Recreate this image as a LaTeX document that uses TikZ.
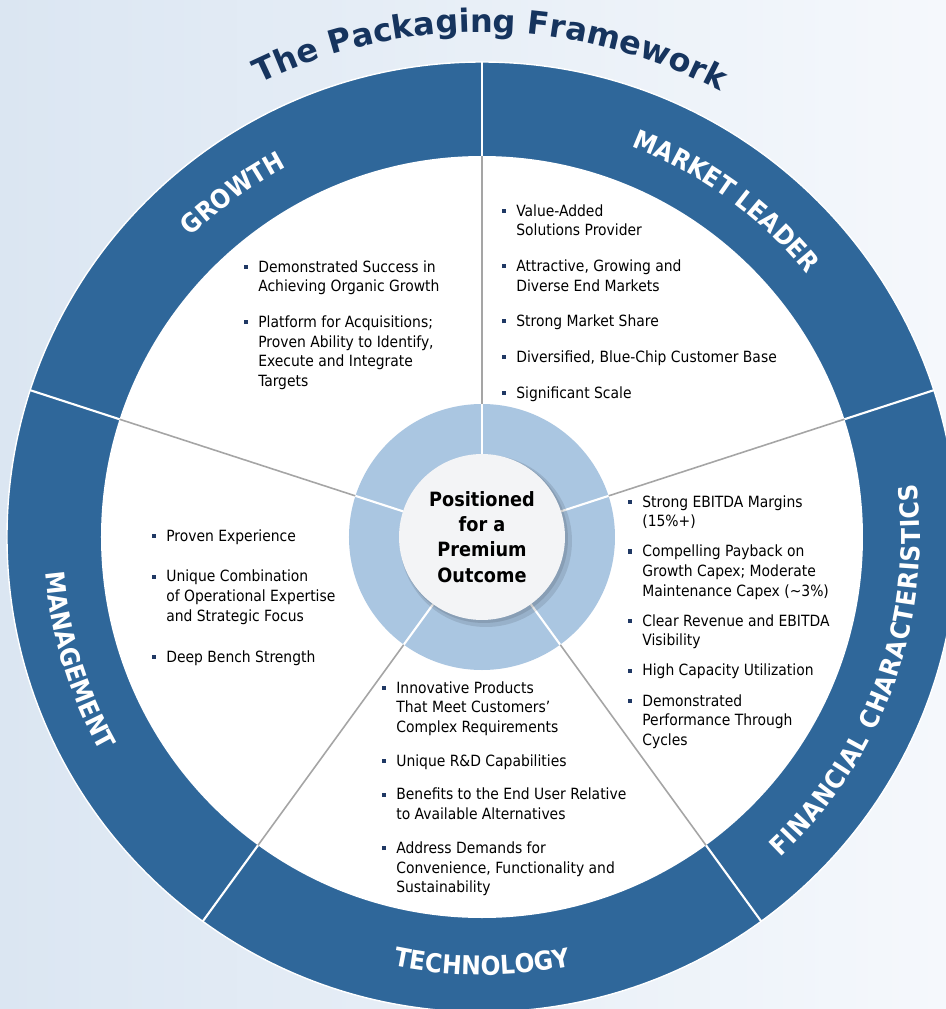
\documentclass[tikz,border=0pt]{standalone}
\usepackage{fontspec}
\setmainfont{DejaVu Sans Condensed}
\newfontfamily\widefont{DejaVu Sans}
\usetikzlibrary{decorations.text}

\definecolor{ringblue}{RGB}{47,103,154}
\definecolor{paleblue}{RGB}{170,198,225}
\definecolor{hubgray}{RGB}{243,244,246}
\definecolor{titleblue}{RGB}{22,52,94}
\definecolor{bulletblue}{RGB}{31,56,100}
\definecolor{bgleft}{RGB}{219,230,242}
\definecolor{bgright}{RGB}{245,248,252}
\definecolor{spokegray}{RGB}{165,165,165}

\newcommand{\ringfont}{\bfseries\fontsize{14.8pt}{14.8pt}\selectfont}
\newcommand{\titlefont}{\widefont\bfseries\fontsize{18.2pt}{18.2pt}\selectfont}
\newcommand{\bl}{\strut\llap{\textcolor{bulletblue}{\rule[1.9pt]{2.3pt}{2.3pt}}\hspace{5.8pt}}}

\tikzset{
  blist/.style={anchor=north west, inner sep=0pt, align=left,
                font=\fontsize{8.8pt}{11.2pt}\selectfont},
  hub/.style={circle, fill=hubgray, minimum size=3.32cm, inner sep=0pt, align=center,
              font=\bfseries\fontsize{11.2pt}{14.4pt}\selectfont},
  ringlabel/.style={decorate, decoration={text along path, text align=center,
                    text color=white, text={|\ringfont|#1}}},
  ringfit/.style={decorate, decoration={text along path, text align=fit to path,
                  text color=white, text={|\ringfont|#1}}}
}

\begin{document}
\begin{tikzpicture}[x=0.02cm, y=0.02cm]

\def\outerR{475}
\def\innerR{381}
\def\paleR{133}
\def\hubR{83}
\def\labelIn{418}
\def\labelOut{438}
\def\titleR{505}

% canvas, centre of the wheel at the origin
\clip (-482,-472) rectangle (464,537);
\shade [left color=bgleft, right color=bgright] (-482,-472) rectangle (464,537);

\begin{scope}
	% outer band
	\fill [ringblue] (0,0) circle [radius=\outerR];
	\draw [white, line width=0.8pt] (0,0) circle [radius=\outerR];
	% white field
	\fill [white] (0,0) circle [radius=\innerR];
	% spokes
	\foreach \a in {90,18,-54,-126,162} {
		\draw [white, line width=1.2pt] (\a:\innerR) -- (\a:\outerR);
		\draw [spokegray, line width=0.9pt] (\a:\paleR) -- (\a:\innerR);
	}
	% pale ring
	\fill [paleblue] (0,0) circle [radius=\paleR];
	\foreach \a in {90,18,-54,-126,162}
		\draw [white, line width=1.2pt] (\a:\hubR) -- (\a:\paleR);
	% hub with soft shadow
	\fill [black, opacity=0.10] (4,-4) circle [radius=86];
	\fill [black, opacity=0.10] (2,-2) circle [radius=84];
	\node [hub] (hub) at (0,0) {Positioned\\for a\\Premium\\Outcome};
\end{scope}

% band labels
\path [ringlabel=GROWTH] (162:\labelIn) arc [start angle=162, end angle=90, radius=\labelIn];
\path [ringlabel=MARKET LEADER] (90:\labelIn) arc [start angle=90, end angle=18, radius=\labelIn];
\path [ringfit=FINANCIAL CHARACTERISTICS] (-47:\labelOut) arc [start angle=-47, end angle=7, radius=\labelOut];
\path [ringlabel=TECHNOLOGY] (-126:\labelOut) arc [start angle=-126, end angle=-54, radius=\labelOut];
\path [ringlabel=MANAGEMENT] (161:\labelOut) arc [start angle=161, end angle=233, radius=\labelOut];

% title
\path [decorate, decoration={text along path, text align=center, text color=titleblue,
       text={|\titlefont|The Packaging Framework}}]
      (131:\titleR) arc [start angle=131, end angle=47, radius=\titleR];

% bullet lists
\node [blist] (growthlist) at (-224,279) {%
	\bl Demonstrated Success in\\ Achieving Organic Growth\\[9.1pt]
	\bl Platform for Acquisitions;\\ Proven Ability to Identify,\\ Execute and Integrate\\ Targets};
\node [blist] (marketlist) at (34,335) {%
	\bl Value-Added\\ Solutions Provider\\[9.1pt]
	\bl Attractive, Growing and\\ Diverse End Markets\\[9.1pt]
	\bl Strong Market Share\\[9.1pt]
	\bl Diversified, Blue-Chip Customer Base\\[9.1pt]
	\bl Significant Scale};
\node [blist] (financelist) at (160,44) {%
	\bl Strong EBITDA Margins\\ (15\%+)\\[5.9pt]
	\bl Compelling Payback on\\ Growth Capex; Moderate\\ Maintenance Capex (\textasciitilde3\%)\\[5.9pt]
	\bl Clear Revenue and EBITDA\\ Visibility\\[5.9pt]
	\bl High Capacity Utilization\\[5.9pt]
	\bl Demonstrated\\ Performance Through\\ Cycles};
\node [blist] (managelist) at (-316,10) {%
	\bl Proven Experience\\[12pt]
	\bl Unique Combination\\ of Operational Expertise\\ and Strategic Focus\\[12pt]
	\bl Deep Bench Strength};
\node [blist] (techlist) at (-86,-142) {%
	\bl Innovative Products\\ That Meet Customers’\\ Complex Requirements\\[8pt]
	\bl Unique R\&D Capabilities\\[8pt]
	\bl Benefits to the End User Relative\\ to Available Alternatives\\[8pt]
	\bl Address Demands for\\ Convenience, Functionality and\\ Sustainability};

\end{tikzpicture}
\end{document}
